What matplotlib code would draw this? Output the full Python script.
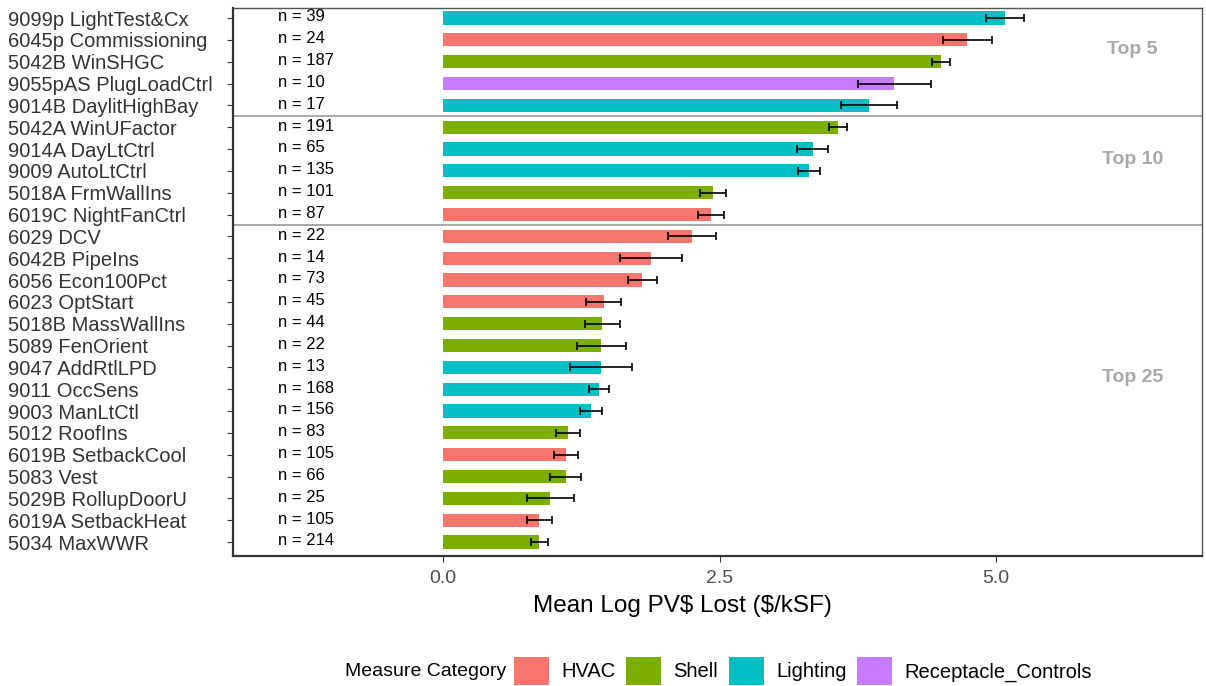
import matplotlib
matplotlib.use("Agg")
import matplotlib.pyplot as plt
from matplotlib.patches import Patch

plt.rcParams['font.family'] = ['Liberation Sans', 'DejaVu Sans']

measures = [
    "9099p LightTest&Cx", "6045p Commissioning", "5042B WinSHGC", "9055pAS PlugLoadCtrl",
    "9014B DaylitHighBay", "5042A WinUFactor", "9014A DayLtCtrl", "9009 AutoLtCtrl",
    "5018A FrmWallIns", "6019C NightFanCtrl", "6029 DCV", "6042B PipeIns",
    "6056 Econ100Pct", "6023 OptStart", "5018B MassWallIns", "5089 FenOrient",
    "9047 AddRtlLPD", "9011 OccSens", "9003 ManLtCtl", "5012 RoofIns",
    "6019B SetbackCool", "5083 Vest", "5029B RollupDoorU", "6019A SetbackHeat",
    "5034 MaxWWR",
]
category = [
    "Lighting", "HVAC", "Shell", "Receptacle_Controls", "Lighting", "Shell", "Lighting",
    "Lighting", "Shell", "HVAC", "HVAC", "HVAC", "HVAC", "HVAC", "Shell", "Shell",
    "Lighting", "Lighting", "Lighting", "Shell", "HVAC", "Shell", "Shell", "HVAC", "Shell",
]
mean_lost = [5.08, 4.74, 4.50, 4.08, 3.85, 3.57, 3.34, 3.31, 2.44, 2.42, 2.25, 1.88,
             1.80, 1.45, 1.44, 1.43, 1.43, 1.41, 1.34, 1.13, 1.11, 1.11, 0.97, 0.87, 0.87]
std_err = [0.17, 0.22, 0.08, 0.33, 0.25, 0.08, 0.14, 0.10, 0.12, 0.12, 0.22, 0.28,
           0.13, 0.16, 0.16, 0.22, 0.28, 0.09, 0.10, 0.11, 0.11, 0.14, 0.21, 0.11, 0.08]
n_obs = [39, 24, 187, 10, 17, 191, 65, 135, 101, 87, 22, 14, 73, 45, 44, 22, 13,
         168, 156, 83, 105, 66, 25, 105, 214]

groups = ["Top 5", "Top 10", "Top 25"]
group_breaks = [4.5, 9.5]
group_label_y = [1.45, 6.5, 16.45]

cat_order = ["HVAC", "Shell", "Lighting", "Receptacle_Controls"]
cat_colors = {"HVAC": "#F8766D", "Shell": "#7CAE00", "Lighting": "#00BFC4",
              "Receptacle_Controls": "#C77CFF"}

fig = plt.figure(figsize=(12.06, 6.86), dpi=100)
ax = fig.add_axes([233 / 1206, 1 - 556 / 686, (1202 - 233) / 1206, (556 - 8) / 686])

ypos = list(range(len(measures)))
ax.barh(ypos, mean_lost, height=0.6, color=[cat_colors[c] for c in category])
ax.errorbar(mean_lost, ypos, xerr=std_err, fmt='none', ecolor='black',
            elinewidth=1.2, capsize=3, capthick=1.2)

for y, n in zip(ypos, n_obs):
    ax.text(-1.49, y - 0.05, f"n = {n}", ha='left', va='center', fontsize=12, color='black')

for b in group_breaks:
    ax.axhline(b, color='#9a9a9a', linewidth=1.2)
for g, gy in zip(groups, group_label_y):
    ax.text(6.23, gy, g, ha='center', va='center', fontsize=14, fontweight='bold',
            color='#a8a8a8')

ax.set_xlim(-1.9, 6.86)
ax.set_ylim(len(measures) - 0.36, -0.46)
ax.set_xticks([0, 2.5, 5.0])
ax.set_xticklabels(["0.0", "2.5", "5.0"])
ax.set_yticks(ypos)
ax.set_yticklabels(measures, ha='left')
ax.tick_params(axis='y', pad=158, length=4, color='#333333', labelsize=14.5, labelcolor='#333333')
ax.tick_params(axis='x', length=4, pad=6, color='#333333', labelsize=14, labelcolor='#4d4d4d')
ax.set_xlabel(r"Mean Log PV\$ Lost (\$/kSF)", fontsize=17.5, color='black')
ax.xaxis.set_label_coords(0.464, -0.072)

for side in ['top', 'right']:
    ax.spines[side].set_color('#555555')
    ax.spines[side].set_linewidth(1.0)
for side in ['left', 'bottom']:
    ax.spines[side].set_color('#333333')
    ax.spines[side].set_linewidth(1.6)

handles = [Patch(facecolor=cat_colors[c]) for c in cat_order]
fig.text(345 / 1206, 1 - 672 / 686, "Measure Category", ha='left', va='center', fontsize=14)
fig.legend(handles, cat_order, loc='center left', bbox_to_anchor=(506 / 1206, 1 - 671 / 686),
           ncol=4, frameon=False, fontsize=14.5, handlelength=1.75, handleheight=1.8,
           columnspacing=0.52, handletextpad=0.6, borderaxespad=0)

fig.savefig("out.png", dpi=100)
